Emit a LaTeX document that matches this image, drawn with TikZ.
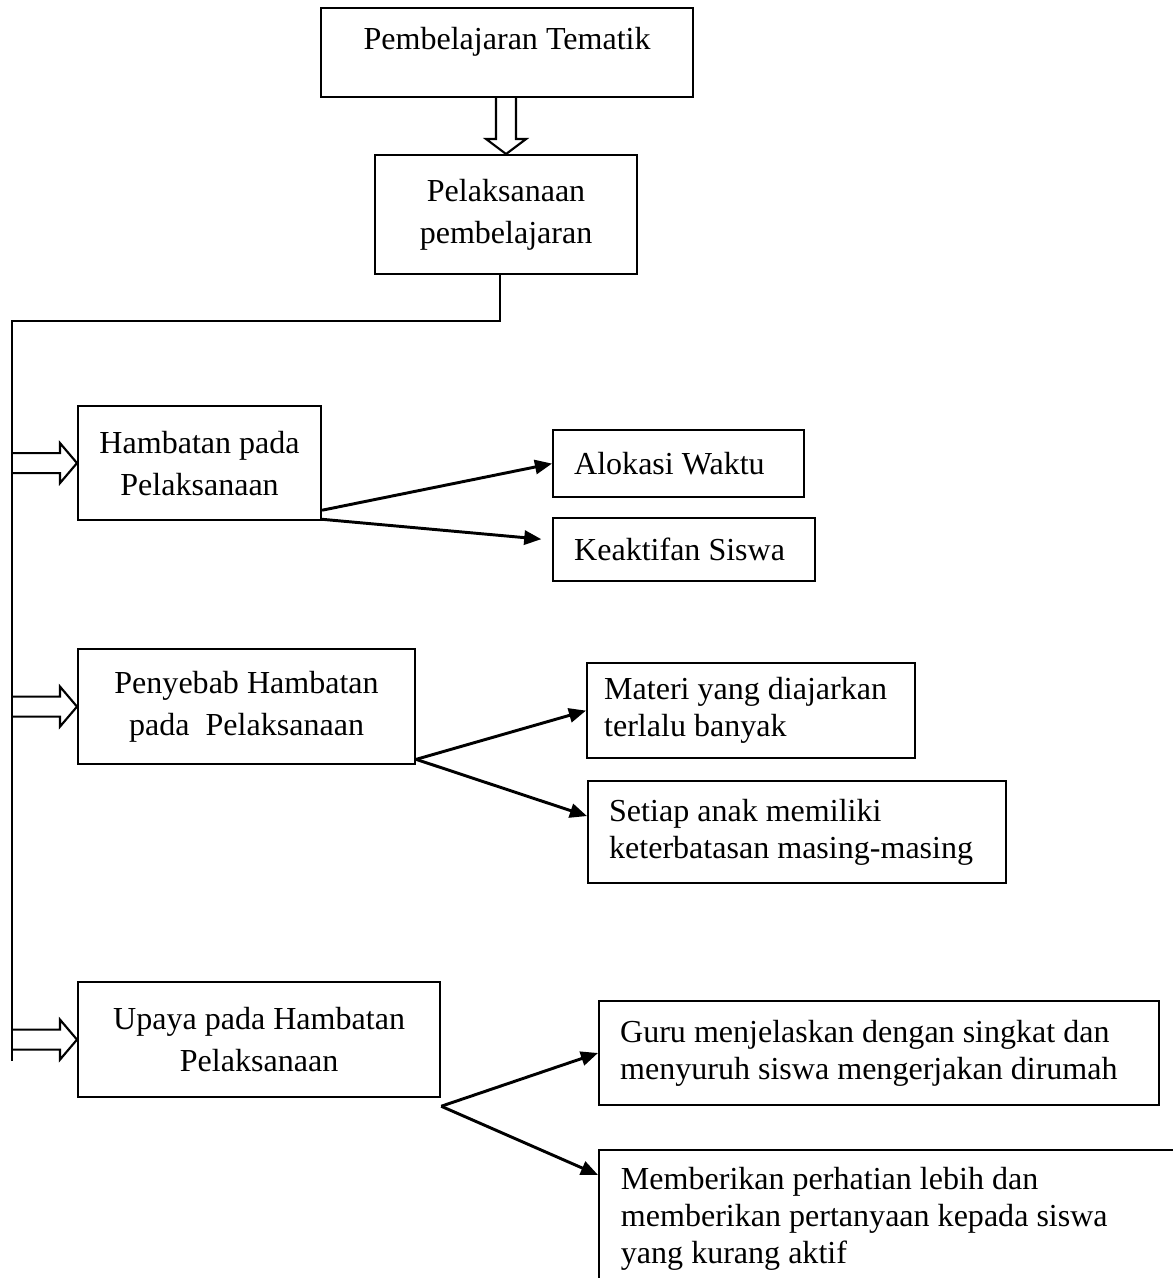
\documentclass[tikz,border=0pt]{standalone}
\usepackage{fontspec}
\setmainfont{Liberation Serif}
\usetikzlibrary{arrows.meta}

\begin{document}
\begin{tikzpicture}[x=0.3745pt, y=-0.3745pt,
    garis/.style={line width=0.8pt},
    kotak/.style={draw, line width=0.8pt, anchor=north west, align=center, inner sep=2pt, font=\fontsize{12}{15.7}\selectfont},
    kotakkiri/.style={kotak, align=flush left, inner xsep=7.9pt, font=\fontsize{12}{13.8}\selectfont},
    panah/.style={line width=1.1pt, -{Triangle[length=6.4pt, width=5.3pt]}}]
    \clip (0,0) rectangle (1173,1278);
    \node[kotak, inner sep=0pt, minimum width=139.3pt, text height=15.7pt, text depth=17.6pt] (tem) at (320,7) {Pembelajaran Tematik};
    \node[kotak, minimum width=98.1pt, minimum height=44.6pt] (pel) at (374,154) {Pelaksanaan\\pembelajaran};
    \node[kotak, minimum width=91pt, minimum height=42.7pt] (ham) at (77,405) {Hambatan pada\\Pelaksanaan};
    \node[kotakkiri, text width=78.2pt, minimum height=25.1pt] (alo) at (552,429) {Alokasi Waktu};
    \node[kotakkiri, text width=82.3pt, minimum height=23.6pt] (kea) at (552,517) {Keaktifan Siswa};
    \node[kotak, minimum width=126.2pt, minimum height=43.1pt] (pen) at (77,648) {Penyebab Hambatan\\pada~ Pelaksanaan};
    \node[kotakkiri, inner xsep=6.4pt, text width=110pt, minimum height=35.6pt] (mat) at (586,662) {Materi yang diajarkan\\terlalu banyak};
    \node[kotakkiri, text width=140.7pt, minimum height=38.2pt] (set) at (587,780) {Setiap anak memiliki\\keterbatasan masing-masing};
    \node[kotak, minimum width=135.6pt, minimum height=43.1pt] (upa) at (77,981) {Upaya pada Hambatan\\Pelaksanaan};
    \node[kotakkiri, text width=193.9pt, minimum height=38.9pt] (gur) at (598,1000) {Guru menjelaskan dengan singkat dan\\menyuruh siswa mengerjakan dirumah};
    \node[kotakkiri, inner xsep=8.2pt, inner ysep=6.4pt, text width=230pt] (mem) at (598,1149) {Memberikan perhatian lebih dan\\memberikan pertanyaan kepada siswa\\yang kurang aktif};

    \coordinate (belok) at (12,321);
    \coordinate (ujung) at (12,1061);
    \draw[garis] ([xshift=-2.2pt]pel.south) |- (belok) -- (ujung);

    \draw[garis] (pel.north) ++(-10,-58) -- ++(0,43) -- ++(-10,0) -- (pel.north) -- ++(20,-15) -- ++(-10,0) -- ++(0,-43);
    \draw[garis] (ham.west) ++(-65,-10) -- ++(48,0) -- ++(0,-10) -- (ham.west) -- ++(-17,20) -- ++(0,-10) -- ++(-48,0);
    \draw[garis] (pen.west) ++(-65,-10) -- ++(48,0) -- ++(0,-10) -- (pen.west) -- ++(-17,20) -- ++(0,-10) -- ++(-48,0);
    \draw[garis] (upa.west) ++(-65,-10) -- ++(48,0) -- ++(0,-10) -- (upa.west) -- ++(-17,20) -- ++(0,-10) -- ++(-48,0);

    \draw[panah] ([yshift=4.1pt]ham.south east) -- (alo.west);
    \draw[panah] ([yshift=0.7pt]ham.south east) -- ([xshift=-4pt, yshift=3.9pt]kea.west);
    \draw[panah] ([yshift=2.2pt]pen.south east) -- (mat.west);
    \draw[panah] ([yshift=2.2pt]pen.south east) -- ([yshift=6pt]set.west);
    \draw[panah] ([yshift=-3pt]upa.south east) -- (gur.west);
    \draw[panah] ([yshift=-3pt]upa.south east) -- ([yshift=-9.7pt]mem.north west);
\end{tikzpicture}
\end{document}
